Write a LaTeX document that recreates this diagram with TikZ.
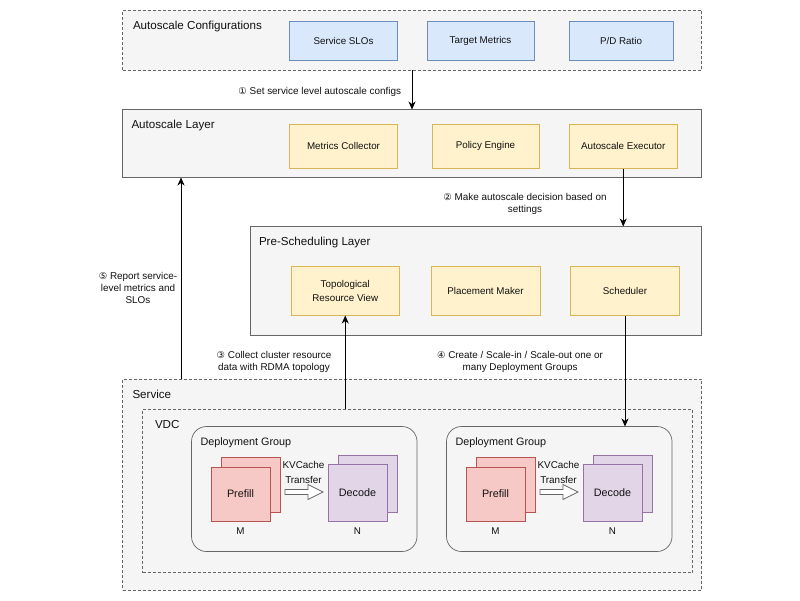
\documentclass[tikz,border=0pt]{standalone}
\usepackage{fontspec}
\setmainfont{Liberation Sans}
\newfontfamily\djv{DejaVu Sans}
\usetikzlibrary{arrows.meta}
\definecolor{grayfill}{HTML}{F5F5F5}
\definecolor{graystroke}{HTML}{666666}
\definecolor{bluefill}{HTML}{DAE8FC}
\definecolor{bluestroke}{HTML}{6C8EBF}
\definecolor{yelfill}{HTML}{FFF2CC}
\definecolor{yelstroke}{HTML}{D6B656}
\definecolor{redfill}{HTML}{F6C9C6}
\definecolor{redstroke}{HTML}{B85450}
\definecolor{purfill}{HTML}{E1D5E7}
\definecolor{purstroke}{HTML}{9673A6}
\definecolor{txt}{HTML}{111111}
\newcommand\circnum[1]{{\djv\fontsize{9.4}{12}\selectfont #1}}
\begin{document}
\begin{tikzpicture}[x=1pt,y=-1pt,
  every node/.style={inner sep=0pt,outer sep=0pt,text=txt},
  container/.style={draw=graystroke,fill=grayfill,line width=0.7pt},
  dashbox/.style={container,dash pattern=on 3pt off 2pt},
  groupbox/.style={container,rounded corners=15pt},
  bluebox/.style={draw=bluestroke,fill=bluefill,line width=0.6pt,font=\fontsize{9.8}{12}\selectfont,align=center},
  yelbox/.style={draw=yelstroke,fill=yelfill,line width=0.6pt,font=\fontsize{9.8}{12}\selectfont,align=center},
  prefillbox/.style={draw=redstroke,fill=redfill,line width=0.6pt,minimum width=59pt,font=\fontsize{10.8}{13}\selectfont},
  decodebox/.style={draw=purstroke,fill=purfill,line width=0.6pt,minimum width=59pt,font=\fontsize{10.8}{13}\selectfont},
  titletext/.style={anchor=west,font=\fontsize{11.6}{14}\selectfont},
  grouptitle/.style={anchor=west,font=\fontsize{10.8}{13}\selectfont},
  edgelabel/.style={align=center,font=\fontsize{9.9}{12}\selectfont},
  smalltext/.style={font=\fontsize{9.8}{12}\selectfont},
  arr/.style={draw=black,line width=0.9pt,-{Stealth[length=8pt,width=7pt,inset=2.5pt]}},
  blockarrow/.style={draw=graystroke,fill=white,line width=0.7pt,line join=miter}
]
\useasboundingbox (0,0) rectangle (800,600);
\fill[white] (0,0) rectangle (800,600);

% Autoscale Configurations
\node[dashbox,minimum width=579pt,minimum height=60pt] (cfg) at (412,40) {};
\node[titletext] (cfgt) at (133,26) {Autoscale Configurations};
\node[bluebox,minimum width=108pt,minimum height=39pt] (slo) at (343.5,41) {Service SLOs};
\node[bluebox,minimum width=107pt,minimum height=39pt] (tm) at (480.5,41) {Target Metrics};
\node[bluebox,minimum width=104pt,minimum height=39pt] (pd) at (621,41) {P/D Ratio};

% Autoscale Layer
\node[container,minimum width=579pt,minimum height=68pt] (asl) at (412,143.5) {};
\node[titletext] (aslt) at (131.5,125) {Autoscale Layer};
\node[yelbox,minimum width=108pt,minimum height=44.5pt] (mc) at (343.5,146.25) {Metrics Collector};
\node[yelbox,minimum width=107pt,minimum height=44.5pt] (pe) at (485.5,146.25) {Policy Engine};
\node[yelbox,minimum width=108.5pt,minimum height=44.5pt] (ae) at (623.25,146.25) {Autoscale Executor};

% Pre-Scheduling Layer
\node[container,minimum width=451pt,minimum height=108.5pt] (psl) at (476,280.75) {};
\node[titletext] (pslt) at (259,242) {Pre-Scheduling Layer};
\node[yelbox,minimum width=107.5pt,minimum height=49.5pt] (trv) at (345.25,290.75) {Topological\\[2pt]Resource View};
\node[yelbox,minimum width=109pt,minimum height=49.5pt] (pm) at (485.5,290.75) {Placement Maker};
\node[yelbox,minimum width=109pt,minimum height=49.5pt] (sch) at (625,290.75) {Scheduler};

% Service
\node[dashbox,minimum width=579pt,minimum height=211pt] (svc) at (412,484.5) {};
\node[titletext] (svct) at (132.5,394.5) {Service};
\node[dashbox,minimum width=550pt,minimum height=163.5pt] (vdc) at (417.5,490.75) {};
\node[titletext] (vdct) at (155,424) {VDC};

% Deployment Group 1
\node[groupbox,minimum width=225.5pt,minimum height=125pt] (dg1) at (304.25,489) {};
\node[grouptitle] (dg1t) at (200.5,443) {Deployment Group};
\node[prefillbox,minimum height=55pt] (pb1) at (250.5,484.5) {};
\node[prefillbox,minimum height=54pt] (pf1) at (240.5,494) {Prefill};
\node[decodebox,minimum height=57pt] (db1) at (367.5,483.5) {};
\node[decodebox,minimum height=57pt] (df1) at (357.5,492.5) {Decode};
\node[smalltext] (m1) at (240.5,531) {M};
\node[smalltext] (n1) at (357.5,531) {N};
\node[edgelabel] (kv1) at (303.5,472) {KVCache\\[3pt]Transfer};
\draw[blockarrow] (285,489.5) -- (308,489.5) -- (308,484.5) -- (323,492) -- (308,499.5) -- (308,494.5) -- (285,494.5) -- cycle;

% Deployment Group 2
\node[groupbox,minimum width=225.5pt,minimum height=125pt] (dg2) at (559.25,489) {};
\node[grouptitle] (dg2t) at (455.5,443) {Deployment Group};
\node[prefillbox,minimum height=55pt] (pb2) at (505.5,484.5) {};
\node[prefillbox,minimum height=54pt] (pf2) at (495.5,494) {Prefill};
\node[decodebox,minimum height=57pt] (db2) at (622.5,483.5) {};
\node[decodebox,minimum height=57pt] (df2) at (612.5,492.5) {Decode};
\node[smalltext] (m2) at (495.5,531) {M};
\node[smalltext] (n2) at (612.5,531) {N};
\node[edgelabel] (kv2) at (558.5,472) {KVCache\\[3pt]Transfer};
\draw[blockarrow] (540,489.5) -- (563,489.5) -- (563,484.5) -- (578,492) -- (563,499.5) -- (563,494.5) -- (540,494.5) -- cycle;

% Connectors
\draw[arr] (cfg.south) -- (asl.north);
\draw[arr] (ae.south) -- (ae.south |- psl.north);
\draw[arr] (trv.south |- vdc.north) -- (trv.south);
\draw[arr] (sch.south) -- (sch.south |- dg2.north);
\draw[arr] ([xshift=58.5pt]svc.north west) -- ([xshift=58.5pt]svc.north west |- asl.south);

% Connector labels
\node[edgelabel,anchor=east] (l1) at (401,92) {\circnum{①} Set service level autoscale configs};
\node[edgelabel] (l2) at (525,204) {\circnum{②} Make autoscale decision based on\\settings};
\node[edgelabel] (l3) at (274,361.5) {\circnum{③} Collect cluster resource\\data with RDMA topology};
\node[edgelabel] (l4) at (520,361.5) {\circnum{④} Create / Scale-in / Scale-out one or\\many Deployment Groups};
\node[edgelabel] (l5) at (138,287.5) {\circnum{⑤} Report service-\\level metrics and\\SLOs};
\end{tikzpicture}
\end{document}
